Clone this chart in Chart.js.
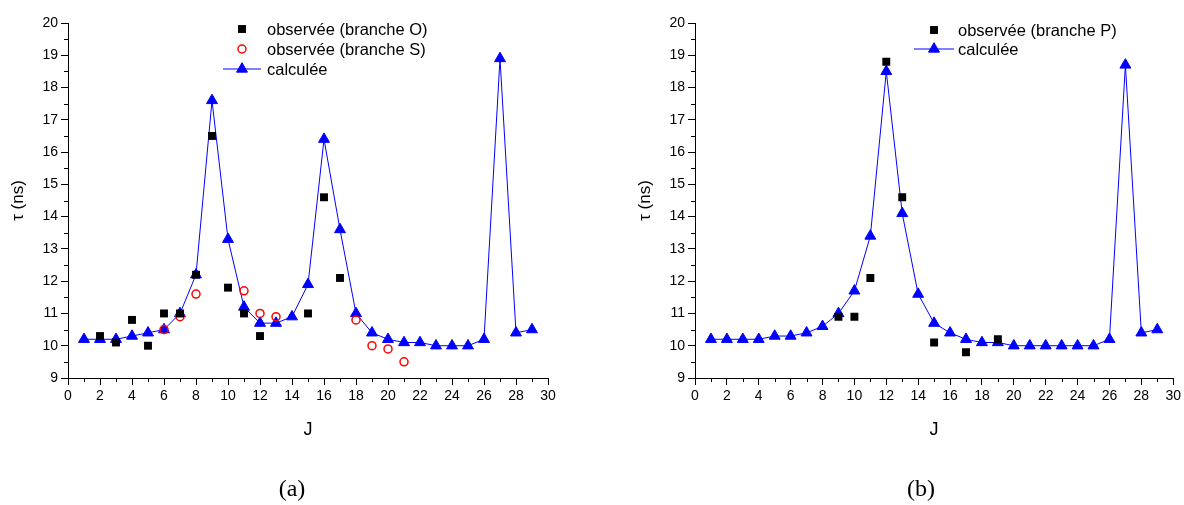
<!DOCTYPE html>
<html>
<head>
<meta charset="utf-8">
<script src="https://cdn.jsdelivr.net/npm/chart.js@4.4.1/dist/chart.umd.min.js"></script>
<style>
  html, body { margin: 0; padding: 0; background: #fff; }
  #wrap { position: relative; width: 1184px; height: 505px; overflow: hidden; }
  .panel { position: absolute; top: 0; width: 592px; height: 505px; }
  .caption { position: absolute; top: 475px; width: 80px; text-align: center;
    font: 24px "Liberation Serif", "DejaVu Serif", serif; color: #000; }
</style>
</head>
<body>
<div id="wrap">
  <div class="panel" style="left:0"><canvas id="chartA" width="592" height="505"></canvas></div>
  <div class="panel" style="left:592px"><canvas id="chartB" width="592" height="505"></canvas></div>
  <div class="caption" style="left:252px">(a)</div>
  <div class="caption" style="left:881px">(b)</div>
</div>
<script>
// J values for the computed curves
const jCalc = [1, 2, 3, 4, 5, 6, 7, 8, 9, 10, 11, 12, 13, 14, 15, 16, 17, 18, 19, 20, 21, 22, 23, 24, 25, 26, 27, 28, 29];

// (a) branches O / S
const tauCalcA = [10.2, 10.2, 10.2, 10.3, 10.4, 10.5, 11.0, 12.2, 17.6, 13.3, 11.2, 10.7, 10.7, 10.9, 11.9, 16.4, 13.6, 11.0, 10.4, 10.2, 10.1, 10.1, 10.0, 10.0, 10.0, 10.2, 18.9, 10.4, 10.5];
const jObsO = [2, 3, 4, 5, 6, 7, 8, 9, 10, 11, 12, 15, 16, 17];
const tauObsO = [10.3, 10.1, 10.8, 10.0, 11.0, 11.0, 12.2, 16.5, 11.8, 11.0, 10.3, 11.0, 14.6, 12.1];
const jObsS = [6, 7, 8, 11, 12, 13, 18, 19, 20, 21];
const tauObsS = [10.5, 10.9, 11.6, 11.7, 11.0, 10.9, 10.8, 10.0, 9.9, 9.5];

// (b) branche P
const tauCalcB = [10.2, 10.2, 10.2, 10.2, 10.3, 10.3, 10.4, 10.6, 11.0, 11.7, 13.4, 18.5, 14.1, 11.6, 10.7, 10.4, 10.2, 10.1, 10.1, 10.0, 10.0, 10.0, 10.0, 10.0, 10.0, 10.2, 18.7, 10.4, 10.5];
const jObsP = [9, 10, 11, 12, 13, 15, 17, 19];
const tauObsP = [10.9, 10.9, 12.1, 18.8, 14.6, 10.1, 9.8, 10.2];

const FONT = '"Liberation Sans", Arial, sans-serif';

function toPoints(xs, ys) {
  return xs.map((x, i) => ({ x, y: ys[i] }));
}

// petites graduations entre les grandes
const minorTicks = {
  id: 'minorTicks',
  afterDraw(chart) {
    const { ctx, scales: { x, y } } = chart;
    ctx.save();
    ctx.strokeStyle = '#000';
    ctx.lineWidth = 1;
    ctx.beginPath();
    for (let v = x.min + 1; v < x.max; v += 2) {
      const px = Math.round(x.getPixelForValue(v)) + 0.5;
      ctx.moveTo(px, x.top);
      ctx.lineTo(px, x.top + 4);
    }
    for (let v = y.min + 0.5; v < y.max; v += 1) {
      const py = Math.round(y.getPixelForValue(v)) + 0.5;
      ctx.moveTo(y.right, py);
      ctx.lineTo(y.right - 4, py);
    }
    ctx.stroke();
    ctx.restore();
  }
};

// légende dans le cadre
const insideLegend = {
  id: 'insideLegend',
  afterDraw(chart, args, opts) {
    const ctx = chart.ctx;
    ctx.save();
    ctx.font = '16.5px ' + FONT;
    ctx.textBaseline = 'middle';
    chart.data.datasets.forEach((ds, i) => {
      const y = opts.y + i * opts.row;
      if (ds.showLine) {
        ctx.strokeStyle = ds.borderColor;
        ctx.lineWidth = 1;
        ctx.beginPath();
        ctx.moveTo(opts.x - opts.lineHalf, y);
        ctx.lineTo(opts.x + opts.lineHalf, y);
        ctx.stroke();
      }
      ctx.fillStyle = ds.pointBackgroundColor;
      ctx.strokeStyle = ds.pointBorderColor;
      ctx.lineWidth = ds.pointBorderWidth;
      Chart.helpers.drawPoint(ctx, {
        pointStyle: ds.pointStyle, radius: ds.pointRadius, rotation: 0, borderWidth: ds.pointBorderWidth
      }, opts.x, y);
      ctx.fillStyle = '#000';
      ctx.fillText(ds.label, opts.x + opts.textGap, y + 1);
    });
    ctx.restore();
  }
};

function squares(label, xs, ys) {
  return {
    label, data: toPoints(xs, ys), showLine: false,
    pointStyle: 'rect', pointRadius: 5.6, pointHoverRadius: 5.6,
    pointBackgroundColor: '#000', pointBorderColor: '#000', pointBorderWidth: 0
  };
}

function calcLine(ys) {
  return {
    label: 'calculée', data: toPoints(jCalc, ys), showLine: true,
    borderColor: '#0000ff', borderWidth: 1, tension: 0,
    pointStyle: 'triangle', pointRadius: 6.3, pointHoverRadius: 6.3,
    pointBackgroundColor: '#0000ff', pointBorderColor: '#0000ff', pointBorderWidth: 1
  };
}

function makeOptions(padLeft, padRight, legendPos) {
  return {
    responsive: false,
    animation: false,
    events: [],
    layout: { padding: { left: padLeft, right: padRight, top: 23, bottom: 64 } },
    plugins: {
      legend: { display: false },
      tooltip: { enabled: false },
      insideLegend: legendPos
    },
    scales: {
      x: {
        type: 'linear', min: 0, max: 30,
        afterFit: s => { s.height = 63; },
        border: { display: true, color: '#000', width: 1 },
        grid: { drawOnChartArea: false, color: '#000', tickLength: 7 },
        ticks: { stepSize: 2, padding: 3, color: '#000', font: { family: FONT, size: 14 }, maxRotation: 0 },
        title: { display: true, text: 'J', color: '#000', font: { family: FONT, size: 18 }, padding: { top: 0, bottom: 0 } }
      },
      y: {
        type: 'linear', min: 9, max: 20,
        afterFit: s => { s.width = 68; },
        border: { display: true, color: '#000', width: 1 },
        grid: { drawOnChartArea: false, color: '#000', tickLength: 7 },
        ticks: { stepSize: 1, padding: 3, color: '#000', font: { family: FONT, size: 14 } },
        title: { display: true, text: 'τ (ns)', color: '#000', font: { family: FONT, size: 17 }, padding: { top: 8, bottom: 0 } }
      }
    }
  };
}

new Chart(document.getElementById('chartA'), {
  type: 'scatter',
  data: {
    datasets: [
      squares('observée (branche O)', jObsO, tauObsO),
      {
        label: 'observée (branche S)', data: toPoints(jObsS, tauObsS), showLine: false,
        pointStyle: 'circle', pointRadius: 4, pointHoverRadius: 4,
        pointBackgroundColor: 'rgba(0,0,0,0)', pointBorderColor: '#ff0000', pointBorderWidth: 1.5
      },
      calcLine(tauCalcA)
    ]
  },
  options: makeOptions(0, 44, { x: 242, y: 29, row: 20, lineHalf: 19, textGap: 25 }),
  plugins: [minorTicks, insideLegend]
});

new Chart(document.getElementById('chartB'), {
  type: 'scatter',
  data: {
    datasets: [
      squares('observée (branche P)', jObsP, tauObsP),
      calcLine(tauCalcB)
    ]
  },
  options: makeOptions(35, 9, { x: 342, y: 30, row: 19, lineHalf: 20, textGap: 24 }),
  plugins: [minorTicks, insideLegend]
});
</script>
</body>
</html>
